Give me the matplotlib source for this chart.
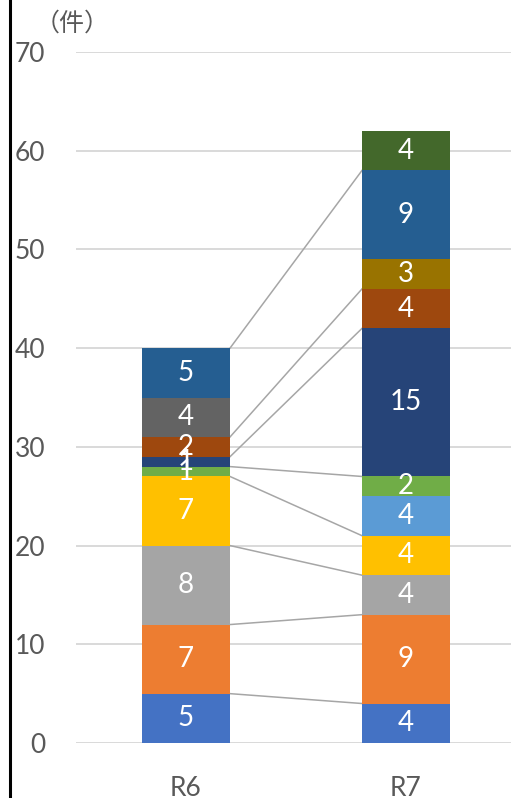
import matplotlib
matplotlib.use("Agg")
import matplotlib.pyplot as plt
from matplotlib.lines import Line2D
import numpy as np

categories = ["R6", "R7"]
# series values (bottom to top); None = no value
s1 = [5, 4]
s2 = [7, 9]
s3 = [8, 4]
s4 = [7, 4]
s5 = [None, 4]
s6 = [1, 2]
s7 = [1, 15]
s8 = [2, 4]
s9 = [4, None]
s10 = [None, 3]
s11 = [5, 9]
s12 = [None, 4]
series = [s1, s2, s3, s4, s5, s6, s7, s8, s9, s10, s11, s12]
colors = ["#4472C4", "#ED7D31", "#A5A5A5", "#FFC000", "#5B9BD5", "#70AD47",
          "#264478", "#9E480E", "#636363", "#997300", "#255E91", "#43682B"]
yticks = [0, 10, 20, 30, 40, 50, 60, 70]
unit_label = "（件）"

FONT = "Lato"
W, H = 511, 798
fig = plt.figure(figsize=(W / 100, H / 100), dpi=100)
ax = fig.add_axes([76 / W, 1 - 743 / H, 440 / W, (743 - 52) / H])

x = np.arange(len(categories))
bw = 0.4
bottom = np.zeros(len(categories))
for vals, c in zip(series, colors):
    v = np.array([0 if a is None else a for a in vals], dtype=float)
    ax.bar(x, v, bw, bottom=bottom, color=c, zorder=3, linewidth=0)
    for i, a in enumerate(vals):
        if a:
            ax.text(x[i], bottom[i] + a / 2, str(a), ha="center", va="center",
                    color="white", fontsize=20, zorder=5, family=FONT)
    newtop = bottom + v
    if all(a is not None for a in vals):
        ax.plot([x[0] + bw / 2, x[1] - bw / 2], [newtop[0], newtop[1]],
                color="#A6A6A6", lw=1.1, zorder=2)
    bottom = newtop

ax.set_xlim(-0.5, 1.5)
ax.set_ylim(0, 70)
ax.set_yticks(yticks)
ax.set_xticks(x)
ax.set_xticklabels(categories)
ax.yaxis.grid(True, color="#D9D9D9", lw=1.4, zorder=0)
ax.set_axisbelow(True)
for sp in ax.spines.values():
    sp.set_visible(False)
ax.tick_params(axis="y", length=0, pad=22, labelsize=19, labelcolor="#595959")
ax.tick_params(axis="x", length=0, pad=24, labelsize=19, labelcolor="#595959")
for lab in ax.get_xticklabels() + ax.get_yticklabels():
    lab.set_family(FONT)

fig.add_artist(Line2D([9.5 / W, 9.5 / W], [0, 1], color="black", lw=2.2,
                      transform=fig.transFigure))
fig.text(72 / W, 1 - 24 / H, unit_label, ha="center", va="center", fontsize=18,
         color="#595959", family=["Noto Sans CJK JP", "DejaVu Sans"])

fig.savefig("out.png", dpi=100)
